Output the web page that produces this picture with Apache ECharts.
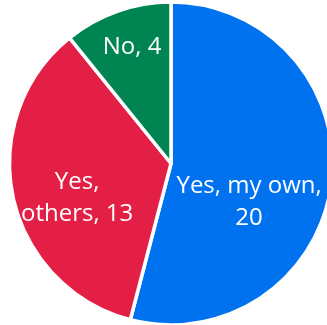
<!DOCTYPE html>
<html>
<head>
<meta charset="utf-8">
<script src="https://cdn.jsdelivr.net/npm/echarts@6/dist/echarts.min.js"></script>
<style>html,body{margin:0;padding:0;background:#fff}#c{width:327px;height:325px}</style>
</head>
<body>
<div id="c"></div>
<script>
const categories = ['Yes, my own', 'Yes, others', 'No'];
const values = [20, 13, 4];
const colors = ['#0072F0', '#E41F45', '#008452'];
const labelOffsets = [[-5, 28], [-12, 17], [-11, -37]];
const labelTexts = ['Yes, my own,\n20', 'Yes,\nothers, 13', 'No, 4'];

const chart = echarts.init(document.getElementById('c'), null, {renderer: 'canvas'});
chart.setOption({
  animation: false,
  series: [{
    type: 'pie',
    center: [171, 163.5],
    radius: [0, 161.5],
    startAngle: 90,
    clockwise: true,
    data: categories.map((name, i) => ({
      name, value: values[i],
      itemStyle: {color: colors[i]},
      label: {offset: labelOffsets[i], formatter: labelTexts[i]}
    })),
    itemStyle: {borderColor: '#fff', borderWidth: 3.5},
    label: {
      show: true, position: 'inside', color: '#fff',
      fontFamily: 'Open Sans', fontSize: 24, lineHeight: 32, align: 'center'
    },
    labelLine: {show: false},
    emphasis: {disabled: true}
  }]
});
</script>
</body>
</html>
